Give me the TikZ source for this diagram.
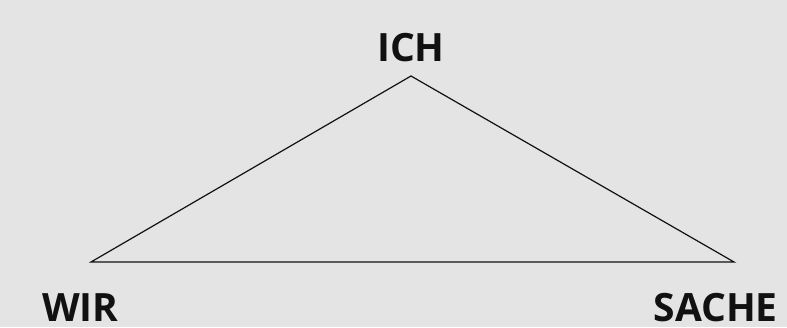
\documentclass[tikz,border=0pt]{standalone}
\usepackage{fontspec}
\setmainfont{Open Sans}
\definecolor{bg}{HTML}{E4E4E4}
\definecolor{ink}{HTML}{111111}
\begin{document}
\begin{tikzpicture}[x=1pt,y=1pt,
  lbl/.style={inner sep=0pt,font=\fontsize{39}{40}\selectfont\bfseries,text=ink},
  edge/.style={draw=ink,line width=1.2pt,line join=miter}]
\fill[bg] (0,0) rectangle (787,327);
\useasboundingbox (0,0) rectangle (787,327);
\coordinate (t) at (411,251);
\coordinate (l) at (91,65);
\coordinate (r) at (734,65);
\draw[edge] (t) -- (l) -- (r) -- cycle;
\node[lbl,anchor=base] (ich) at (411,265) {ICH};
\node[lbl,anchor=base west] (wir) at (42,6) {WIR};
\node[lbl,anchor=base east] (sache) at (778,6) {SACHE};
\end{tikzpicture}
\end{document}
